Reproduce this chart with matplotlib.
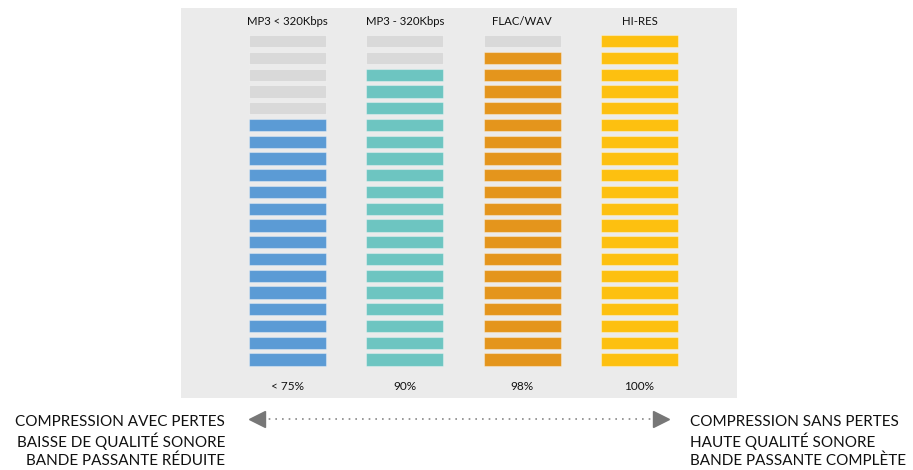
import numpy as np
import matplotlib
matplotlib.use("Agg")
import matplotlib.pyplot as plt

plt.rcParams['font.family'] = ['Lato', 'DejaVu Sans']

# data
formats = ["MP3 < 320Kbps", "MP3 - 320Kbps", "FLAC/WAV", "HI-RES"]
filled = [15, 18, 19, 20]          # lit segments out of 20
n_seg = 20
quality = ["< 75%", "90%", "98%", "100%"]
colors = ["#5b9bd5", "#6dc5c1", "#e4951c", "#fdc010"]
empty_color = "#d9d9d9"
left_lines = ["COMPRESSION AVEC PERTES", "BAISSE DE QUALITÉ SONORE", "BANDE PASSANTE RÉDUITE"]
right_lines = ["COMPRESSION SANS PERTES", "HAUTE QUALITÉ SONORE", "BANDE PASSANTE COMPLÈTE"]

W, H = 913, 470
fig = plt.figure(figsize=(W / 100, H / 100), dpi=100)

# grey panel with the level meters
px0, px1, py0, py1 = 181, 737, 8, 398
ax = fig.add_axes([px0 / W, (H - py1) / H, (px1 - px0) / W, (py1 - py0) / H])
ax.set_facecolor("#ebebeb")
for s in ax.spines.values():
    s.set_visible(False)
ax.set_xticks([])
ax.set_yticks([])

pitch_x = 117.3
pitch_y = 16.75
x_lo = -(287.5 - px0) / pitch_x
y_lo = -(py1 - 365.7) / pitch_y
ax.set_xlim(x_lo, x_lo + (px1 - px0) / pitch_x)
ax.set_ylim(y_lo, y_lo + (py1 - py0) / pitch_y)

seg = np.arange(n_seg)
for k, name in enumerate(formats):
    cols = [colors[k] if i < filled[k] else empty_color for i in seg]
    ax.bar(np.full(n_seg, k), 0.74, bottom=seg, width=0.656, color=cols,
           edgecolor=(1, 1, 1, 0.35), linewidth=0.8, align="center")
    ax.text(k, 20.52, name, ha="center", va="center", fontsize=8.2, color="#111111")
    ax.text(k, -1.27, quality[k], ha="center", va="center", fontsize=8.5, color="#111111")

# overlay for the scale arrow and captions (pixel coords)
ov = fig.add_axes([0, 0, 1, 1])
ov.set_xlim(0, W)
ov.set_ylim(H, 0)
ov.axis("off")
ov.patch.set_alpha(0)

ov.plot([262, 654], [418.5, 418.5], linestyle=(0, (1, 3)), color="#888888", lw=1.2)
ov.plot([257], [418.5], marker="<", markersize=12, color="#777777")
ov.plot([661], [418.5], marker=">", markersize=12, color="#777777")

for j, (l, r) in enumerate(zip(left_lines, right_lines)):
    yy = 422 + j * 19.5
    ov.text(225, yy, l, ha="right", va="center", fontsize=11, color="#111111")
    ov.text(690, yy, r, ha="left", va="center", fontsize=11, color="#111111")

fig.savefig("out.png", dpi=100)
